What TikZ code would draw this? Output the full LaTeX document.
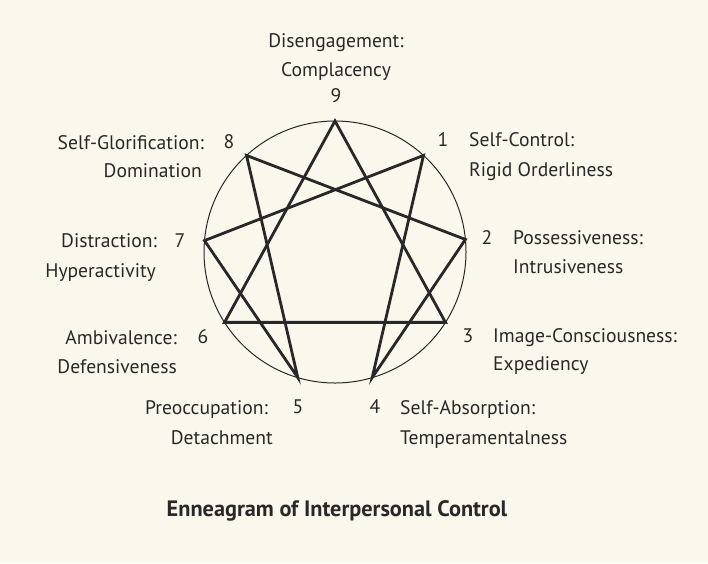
\documentclass[tikz,border=0pt]{standalone}
\usepackage{fontspec}
\setmainfont{PT Sans}
\definecolor{bg}{RGB}{250,248,236}
\definecolor{ink}{RGB}{40,40,40}
\begin{document}
\begin{tikzpicture}[x=1pt,y=-1pt,
  lab/.style={font=\fontsize{19.6}{23}\selectfont, text=ink, inner sep=0pt},
  num/.style={lab, anchor=center},
  ttl/.style={font=\fontsize{22.3}{25}\selectfont\bfseries, text=ink, inner sep=0pt},
  chord/.style={draw=ink, line width=2.8pt, line join=miter, line cap=round},
  ring/.style={circle, draw=ink, line width=1pt, inner sep=0pt, minimum size=262pt}]
\fill[bg] (0,0) rectangle (708,563);
\useasboundingbox (0,0) rectangle (708,563);
\coordinate (c) at (335,252);
\node[ring] (circ) at (c) {};
\coordinate (p9) at ([shift={(-90:131)}]c);
\coordinate (p1) at ([shift={(-47.5:131)}]c);
\coordinate (p2) at ([shift={(-5.5:131)}]c);
\coordinate (p3) at ([shift={(32.5:131)}]c);
\coordinate (p4) at ([shift={(73.5:131)}]c);
\coordinate (p5) at ([shift={(106.5:131)}]c);
\coordinate (p6) at ([shift={(147.5:131)}]c);
\coordinate (p7) at ([shift={(185:131)}]c);
\coordinate (p8) at ([shift={(227.5:131)}]c);
\draw[chord] (p9) -- (p3) -- (p6) -- cycle;
\draw[chord] (p1) -- (p4) -- (p2) -- (p8) -- (p5) -- (p7) -- cycle;
% 9
\node[lab, anchor=base] (t9a) at (336,47) {Disengagement:};
\node[lab, anchor=base] (t9b) at (336,76) {Complacency};
\node[num] (n9) at (336,96) {9};
% 8
\node[lab, anchor=base east] (t8a) at (204,149) {Self-Glorification:};
\node[num] (n8) at (229,142) {8};
\node[lab, anchor=base east] (t8b) at (202,177) {Domination};
% 1
\node[num] (n1) at (443,140) {1};
\node[lab, anchor=base west] (t1a) at (469,146) {Self-Control:};
\node[lab, anchor=base west] (t1b) at (469,176) {Rigid Orderliness};
% 7
\node[lab, anchor=base east] (t7a) at (157,247) {Distraction:};
\node[num] (n7) at (180,241) {7};
\node[lab, anchor=base east] (t7b) at (156,277) {Hyperactivity};
% 2
\node[num] (n2) at (487,238) {2};
\node[lab, anchor=base west] (t2a) at (513,244) {Possessiveness:};
\node[lab, anchor=base west] (t2b) at (513,273) {Intrusiveness};
% 6
\node[lab, anchor=base east] (t6a) at (177,344) {Ambivalence:};
\node[num] (n6) at (203,337) {6};
\node[lab, anchor=base east] (t6b) at (177,373) {Defensiveness};
% 3
\node[num] (n3) at (468,336) {3};
\node[lab, anchor=base west] (t3a) at (493,342) {Image-Consciousness:};
\node[lab, anchor=base west] (t3b) at (493,370) {Expediency};
% 5
\node[lab, anchor=base east] (t5a) at (268,414) {Preoccupation:};
\node[num] (n5) at (298,407) {5};
\node[lab, anchor=base east] (t5b) at (273,444) {Detachment};
% 4
\node[num] (n4) at (375,407) {4};
\node[lab, anchor=base west] (t4a) at (400,414) {Self-Absorption:};
\node[lab, anchor=base west] (t4b) at (400,444) {Temperamentalness};
% title
\node[ttl, anchor=base] (title) at (337,516) {Enneagram of Interpersonal Control};
\end{tikzpicture}
\end{document}
